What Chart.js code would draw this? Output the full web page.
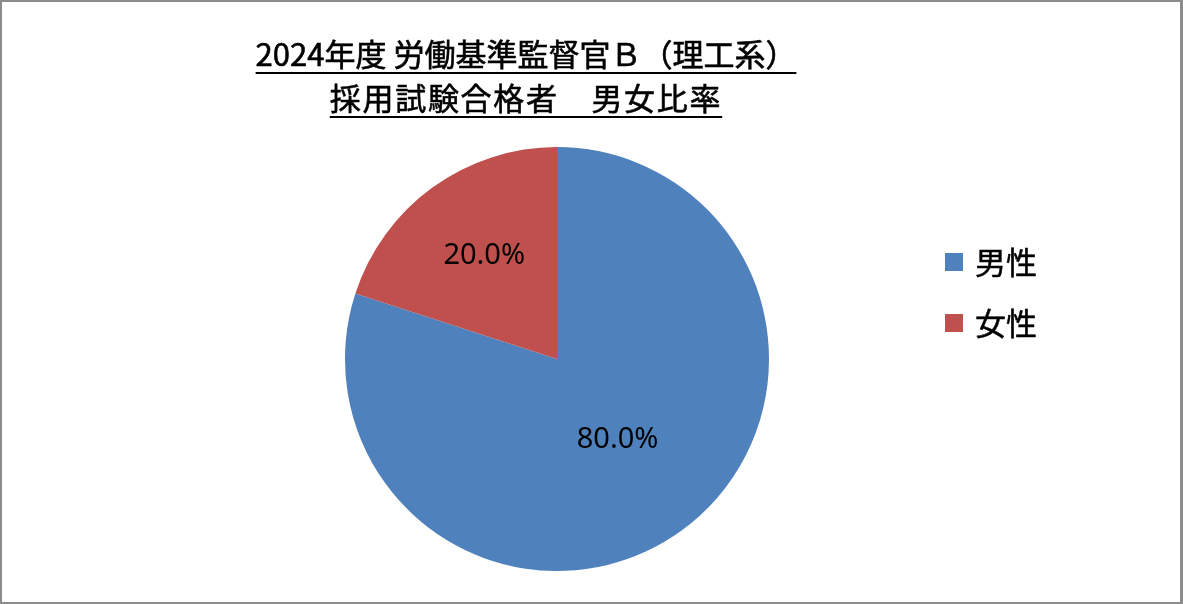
<!DOCTYPE html>
<html>
<head>
    <meta charset="utf-8">
    <title>労働基準監督官B 男女比率</title>
    <script src="https://cdn.jsdelivr.net/npm/chart.js@4"></script>
    <style>
        body { margin: 0; background: #fff; }
        #wrap { position: relative; width: 1183px; height: 604px; }
        #frame { position: absolute; left: 0; top: 0; right: 0; bottom: 0; box-sizing: border-box;
                 border-style: solid; border-color: #8c8c8c; border-width: 2px 3px 2px 2px; pointer-events: none; }
    </style>
</head>
<body>
<div id="wrap">
    <canvas id="myChart" width="1183" height="604"></canvas>
    <div id="frame"></div>
</div>

<script>
// data
var titleLines = ['2024年度 労働基準監督官Ｂ（理工系）', '採用試験合格者　男女比率'];
var categories = ['男性', '女性'];
var values = [80, 20];
var colors = ['#4F81BD', '#C0504D'];

var cjk = '"Noto Sans CJK JP", "Noto Sans", sans-serif';

// title with underline, sits left of the canvas centre like the original
var titlePlugin = {
    id: 'underlinedTitle',
    afterDraw: function(chart) {
        var ctx = chart.ctx;
        ctx.save();
        ctx.font = '31px ' + cjk;
        ctx.fillStyle = '#000';
        ctx.strokeStyle = '#000';
        ctx.lineWidth = 0.6;
        ctx.textAlign = 'center';
        ctx.textBaseline = 'alphabetic';
        var cx = 526;
        var baselines = [66, 110];
        var spacing = ['0px', '1.7px'];
        titleLines.forEach(function(t, i) {
            ctx.letterSpacing = spacing[i];
            ctx.fillText(t, cx, baselines[i]);
            ctx.strokeText(t, cx, baselines[i]);
            var w = ctx.measureText(t).width;
            ctx.fillRect(cx - w / 2, baselines[i] + 6, w, 2);
        });
        ctx.restore();
    }
};

var legendPlugin = {
    id: 'sideLegend',
    afterDraw: function(chart) {
        var ctx = chart.ctx;
        var ds = chart.data.datasets[0];
        ctx.save();
        ctx.font = '31px ' + cjk;
        ctx.textBaseline = 'middle';
        ctx.lineWidth = 0.5;
        chart.data.labels.forEach(function(lab, i) {
            var y = 262 + i * 61;
            ctx.fillStyle = ds.backgroundColor[i];
            ctx.fillRect(945, y - 9, 18, 18);
            ctx.fillStyle = '#000';
            ctx.strokeStyle = '#000';
            ctx.fillText(lab, 975, y);
            ctx.strokeText(lab, 975, y);
        });
        ctx.restore();
    }
};

var labelPlugin = {
    id: 'sliceLabels',
    afterDatasetsDraw: function(chart) {
        var ctx = chart.ctx;
        var meta = chart.getDatasetMeta(0);
        var data = chart.data.datasets[0].data;
        var total = data.reduce(function(a, b) { return a + b; }, 0);
        var frac = [0.47, 0.60];
        ctx.save();
        ctx.font = '29px "Noto Sans", sans-serif';
        ctx.fillStyle = '#000';
        ctx.textAlign = 'center';
        ctx.textBaseline = 'middle';
        meta.data.forEach(function(arc, i) {
            var p = arc.getProps(['x', 'y', 'startAngle', 'endAngle', 'outerRadius'], true);
            var mid = (p.startAngle + p.endAngle) / 2;
            var r = p.outerRadius * frac[i];
            ctx.fillText((data[i] / total * 100).toFixed(1) + '%', p.x + Math.cos(mid) * r + 2, p.y + Math.sin(mid) * r);
        });
        ctx.restore();
    }
};

var ctx = document.getElementById('myChart').getContext('2d');
var myChart = new Chart(ctx, {
    type: 'pie',
    data: {
        labels: categories,
        datasets: [{
            data: values,
            backgroundColor: colors,
            borderWidth: 0
        }]
    },
    options: {
        responsive: false,
        animation: false,
        layout: { padding: { left: 345, right: 414, top: 147, bottom: 33 } },
        plugins: {
            legend: { display: false },
            title: { display: false },
            tooltip: { enabled: false }
        }
    },
    plugins: [titlePlugin, legendPlugin, labelPlugin]
});
</script>
</body>
</html>
